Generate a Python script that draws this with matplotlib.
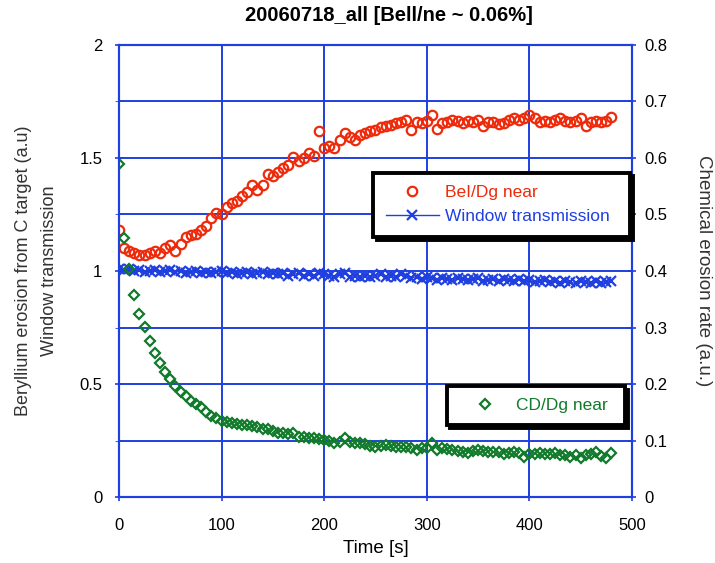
import matplotlib
matplotlib.use('Agg')
import matplotlib.pyplot as plt

plt.rcParams['font.family'] = ['Liberation Sans', 'DejaVu Sans']

# sample times [s]
time_s = [0, 5, 10, 15, 20, 25, 30, 35, 40, 45,
          50, 55, 60, 65, 70, 75, 80, 85, 90, 95,
          100, 105, 110, 115, 120, 125, 130, 135, 140, 145,
          150, 155, 160, 165, 170, 175, 180, 185, 190, 195,
          200, 205, 210, 215, 220, 225, 230, 235, 240, 245,
          250, 255, 260, 265, 270, 275, 280, 285, 290, 295,
          300, 305, 310, 315, 320, 325, 330, 335, 340, 345,
          350, 355, 360, 365, 370, 375, 380, 385, 390, 395,
          400, 405, 410, 415, 420, 425, 430, 435, 440, 445,
          450, 455, 460, 465, 470, 475, 480]

# BeI/Dg near (left axis)
bei_dg = [1.18, 1.10, 1.09, 1.08, 1.07, 1.07, 1.08, 1.09, 1.08, 1.10,
          1.115, 1.09, 1.12, 1.15, 1.16, 1.165, 1.18, 1.20, 1.235, 1.255,
          1.25, 1.285, 1.30, 1.31, 1.33, 1.35, 1.38, 1.36, 1.38, 1.43,
          1.42, 1.44, 1.455, 1.47, 1.505, 1.485, 1.50, 1.52, 1.51, 1.62,
          1.545, 1.555, 1.545, 1.58, 1.61, 1.595, 1.58, 1.60, 1.61, 1.62,
          1.625, 1.635, 1.64, 1.645, 1.655, 1.66, 1.67, 1.625, 1.66, 1.655,
          1.665, 1.69, 1.63, 1.655, 1.66, 1.67, 1.665, 1.655, 1.665, 1.66,
          1.67, 1.64, 1.66, 1.66, 1.65, 1.655, 1.67, 1.675, 1.67, 1.675,
          1.69, 1.675, 1.66, 1.665, 1.66, 1.67, 1.675, 1.665, 1.66, 1.665,
          1.675, 1.64, 1.66, 1.665, 1.66, 1.665, 1.68]

# window transmission (left axis)
window_tr = [1.01, 1.005, 1.01, 1.00, 1.005, 0.995, 1.00, 1.005, 0.995, 1.00,
             1.005, 0.995, 1.00, 0.99, 0.995, 1.00, 0.99, 0.995, 0.99, 0.995,
             1.00, 0.99, 0.995, 0.985, 0.99, 0.995, 0.985, 0.99, 0.995, 0.985,
             0.99, 0.985, 0.99, 0.98, 0.985, 0.99, 0.98, 0.985, 0.98, 0.99,
             0.985, 0.98, 0.975, 0.985, 0.99, 0.975, 0.98, 0.975, 0.98, 0.975,
             0.98, 0.985, 0.975, 0.98, 0.975, 0.985, 0.98, 0.97, 0.975, 0.965,
             0.975, 0.97, 0.96, 0.97, 0.965, 0.96, 0.97, 0.965, 0.96, 0.965,
             0.97, 0.955, 0.96, 0.965, 0.955, 0.965, 0.96, 0.955, 0.965, 0.955,
             0.96, 0.95, 0.955, 0.96, 0.95, 0.955, 0.945, 0.955, 0.95, 0.945,
             0.955, 0.95, 0.945, 0.955, 0.945, 0.95, 0.955]

# CD/Dg near (right axis, chemical erosion rate)
cd_dg = [0.589, 0.458, 0.403, 0.357, 0.324, 0.301, 0.276, 0.255, 0.237, 0.222,
         0.209, 0.196, 0.186, 0.178, 0.170, 0.164, 0.160, 0.151, 0.144, 0.139,
         0.135, 0.133, 0.131, 0.129, 0.128, 0.127, 0.125, 0.124, 0.121, 0.120,
         0.117, 0.114, 0.114, 0.112, 0.113, 0.107, 0.106, 0.105, 0.104, 0.103,
         0.101, 0.100, 0.096, 0.098, 0.104, 0.097, 0.096, 0.095, 0.093, 0.090,
         0.089, 0.091, 0.092, 0.091, 0.089, 0.088, 0.089, 0.086, 0.083, 0.086,
         0.087, 0.096, 0.084, 0.086, 0.085, 0.083, 0.082, 0.080, 0.078, 0.082,
         0.083, 0.081, 0.079, 0.080, 0.079, 0.077, 0.078, 0.079, 0.078, 0.071,
         0.076, 0.077, 0.078, 0.076, 0.077, 0.078, 0.075, 0.074, 0.071, 0.074,
         0.069, 0.075, 0.077, 0.080, 0.073, 0.069, 0.078]

RED = '#ee2a0b'
BLUE = '#1f3fe0'
GREEN = '#117a2b'

fig = plt.figure(figsize=(7.15, 5.63), dpi=100)
ax = fig.add_axes([0.1664, 0.1172, 0.7175, 0.8029])
ax2 = ax.twinx()

l_bei, = ax.plot(time_s, bei_dg, 'o', mfc='none', mec=RED, ms=6.8, mew=1.6,
                 label='BeI/Dg near')
l_win, = ax.plot(time_s, window_tr, '-x', color=BLUE, ms=6.5, mew=1.6, lw=1.0,
                 label='Window transmission')
l_cd, = ax2.plot(time_s, cd_dg, 'D', mfc='none', mec=GREEN, ms=5, mew=1.6,
                 label='CD/Dg near')

ax.set_xlim(0, 500)
ax.set_ylim(0, 2)
ax2.set_ylim(0, 0.8)
ax.set_xticks([0, 100, 200, 300, 400, 500])
ax.set_yticks([0, 0.5, 1, 1.5, 2])
ax.set_yticks([0.25, 0.75, 1.25, 1.75], minor=True)
ax2.set_yticks([0, 0.1, 0.2, 0.3, 0.4, 0.5, 0.6, 0.7, 0.8])
ax.set_yticklabels(['0', '0.5', '1', '1.5', '2'])
ax2.set_yticklabels(['0', '0.1', '0.2', '0.3', '0.4', '0.5', '0.6', '0.7', '0.8'])

ax.grid(True, which='both', color=BLUE, lw=1.4)
ax.set_axisbelow(True)
for a in (ax, ax2):
    for sp in a.spines.values():
        sp.set_color(BLUE)
        sp.set_linewidth(1.5)
    a.tick_params(colors=BLUE, labelcolor='black', labelsize=12,
                  direction='inout', length=6, width=1.2)
ax.tick_params(axis='y', which='minor', direction='inout', length=6, color=BLUE)
ax.tick_params(axis='x', pad=12)
ax.tick_params(axis='y', pad=9)
ax2.tick_params(pad=6)

ax.set_xlabel('Time [s]', fontsize=13.5, labelpad=5)
ax.set_ylabel('Beryllium erosion from C target (a.u)\nWindow transmission',
              fontsize=13, color='#333333', labelpad=15, linespacing=1.75)
ax2.set_ylabel('Chemical erosion rate (a.u.)', fontsize=13.5, color='#333333',
               rotation=270, labelpad=32)

fig.text(0.544, 0.972, '20060718_all [Bell/ne ~ 0.06%]', ha='center', va='center',
         fontsize=14.5, fontweight='bold')

shadow = {'ox': 2.5, 'oy': -2.5, 'facecolor': 'black', 'edgecolor': 'black', 'alpha': 1}

leg1 = ax2.legend(handles=[l_bei, l_win], loc='upper left',
                  bbox_to_anchor=(0.522, 0.577, 0.359, 0.116),
                  bbox_transform=fig.transFigure, mode='expand',
                  fontsize=12.5, frameon=True, fancybox=False, shadow=shadow,
                  handlelength=3.05, handletextpad=0.35, borderpad=0.72,
                  labelspacing=0.5, borderaxespad=0)
for txt, c in zip(leg1.get_texts(), [RED, BLUE]):
    txt.set_color(c)
leg1.get_frame().set_edgecolor('black')
leg1.get_frame().set_linewidth(2.8)
ax2.add_artist(leg1)

leg2 = ax2.legend(handles=[l_cd], loc='upper left',
                  bbox_to_anchor=(0.625, 0.245, 0.249, 0.069),
                  bbox_transform=fig.transFigure, mode='expand',
                  fontsize=12.5, frameon=True, fancybox=False, shadow=shadow,
                  handlelength=3.05, handletextpad=0.25, borderpad=0.68,
                  borderaxespad=0)
leg2.get_texts()[0].set_color(GREEN)
leg2.get_frame().set_edgecolor('black')
leg2.get_frame().set_linewidth(2.8)

fig.savefig('out.png', dpi=100)
